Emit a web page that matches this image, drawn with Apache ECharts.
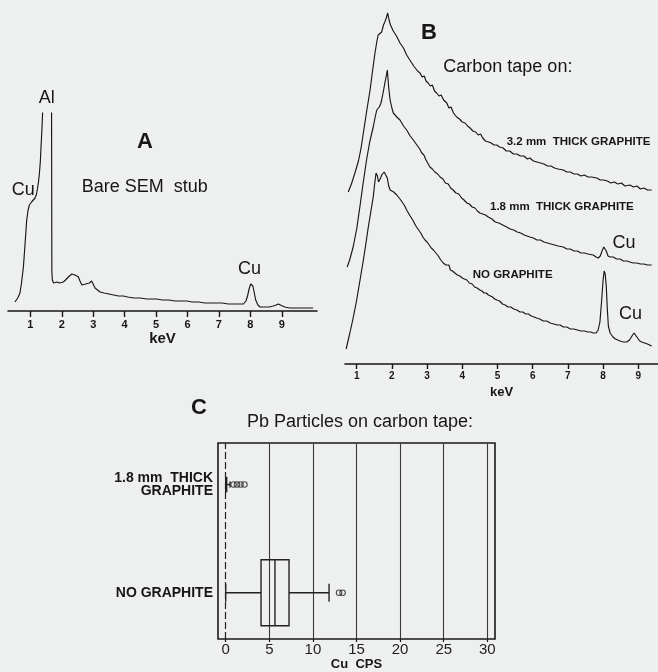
<!DOCTYPE html>
<html><head><meta charset="utf-8">
<script src="https://cdn.jsdelivr.net/npm/echarts@6/dist/echarts.min.js"></script>
<style>html,body{margin:0;padding:0;background:#eeefef}#c{width:658px;height:672px}</style>
</head><body><div id="c"></div>
<script>
// ---------- data ----------
const keVTicks = [1, 2, 3, 4, 5, 6, 7, 8, 9];
const cpsTicks = [0, 5, 10, 15, 20, 25, 30];
const boxCategories = ['NO GRAPHITE', '1.8 mm  THICK\nGRAPHITE'];
// [min, Q1, median, Q3, max] in Cu CPS
const boxStats = [[0, 4.05, 5.65, 7.26, 11.85], [0, 0, 0.02, 0.06, 0.5]];
const outliersNoGraphite = [13.0, 13.4];
const outliers18mm = [0.9, 1.3, 1.7, 2.15];

// Panel A: bare SEM stub spectrum [keV, counts]
const specA = [[0.51,9],[0.60,13],[0.67,18],[0.72,28],[0.78,44],[0.83,66],[0.885,91],[0.93,101],[0.97,106],[1.00,108],[1.04,109],[1.10,110],[1.15,113],[1.19,116],[1.22,121],[1.26,129],[1.29,138],[1.32,150],[1.34,164],[1.37,182],[1.39,198],[1.44,300],[1.49,400],[1.60,380],[1.67,300],[1.685,40],[1.70,31],[1.74,28],[1.79,28],[1.85,29],[1.92,28],[1.98,29],[2.05,29],[2.12,31],[2.17,33],[2.21,34],[2.27,36],[2.32,37],[2.37,38],[2.42,36],[2.47,36],[2.53,34],[2.58,30],[2.64,26],[2.70,26],[2.76,27],[2.81,27],[2.88,28],[2.95,30],[3.00,29],[3.06,23],[3.12,21],[3.22,19],[3.35,18],[3.50,17],[3.65,16],[3.80,15],[3.96,15],[4.10,14],[4.30,13],[4.50,13],[4.70,12],[4.85,12],[5.02,12],[5.20,11],[5.40,11],[5.60,10],[5.80,10],[5.98,10],[6.15,9],[6.35,9],[6.55,8],[6.75,8],[6.93,8],[7.10,8],[7.30,7],[7.50,7],[7.65,7],[7.78,7],[7.86,10],[7.91,15],[7.96,22],[8.01,27],[8.04,28],[8.08,25],[8.12,19],[8.17,11],[8.24,6],[8.31,4],[8.45,4],[8.60,4],[8.73,5],[8.82,6],[8.89,7],[8.95,6],[9.02,5],[9.10,4],[9.25,3],[9.45,3],[9.65,3],[9.85,3],[10.0,3]];

// Panel B: carbon tape on 3.2 mm graphite (stacked display counts)
const spec32 = [[0.76,172],[0.85,180],[0.95,191],[1.05,203],[1.12,215],[1.19,231],[1.28,252],[1.38,274],[1.45,293],[1.52,311],[1.57,322],[1.61,329],[1.65,327],[1.71,332],[1.76,339],[1.80,342],[1.84,346],[1.88,351],[1.92,344],[1.96,339],[1.99,337],[2.04,333],[2.08,334],[2.13,328],[2.18,327],[2.23,321],[2.28,322],[2.33,316],[2.37,314],[2.42,309],[2.47,310],[2.51,304],[2.56,302],[2.62,298],[2.67,299],[2.73,293],[2.80,291],[2.86,287],[2.92,288],[2.97,283],[3.03,281],[3.09,278],[3.15,279],[3.21,273],[3.27,271],[3.34,268],[3.40,269],[3.47,264],[3.56,261],[3.62,256],[3.68,257],[3.75,251],[3.84,247],[3.92,245],[4.00,242],[4.08,241],[4.15,238],[4.22,236],[4.30,233],[4.38,232],[4.45,229],[4.52,230],[4.58,226],[4.62,228],[4.66,223],[4.69,224],[4.75,222],[4.82,221],[4.90,219],[4.98,219],[5.06,217],[5.16,216],[5.25,213],[5.35,213],[5.45,210],[5.55,210],[5.65,208],[5.75,208],[5.85,205],[5.92,206],[6.02,203],[6.12,202],[6.22,201],[6.32,200],[6.42,198],[6.52,198],[6.62,196],[6.72,195],[6.87,194],[6.97,192],[7.07,192],[7.17,190],[7.27,190],[7.37,188],[7.47,189],[7.57,187],[7.67,187],[7.82,186],[7.92,184],[8.02,184],[8.12,183],[8.22,181],[8.32,182],[8.42,180],[8.52,181],[8.62,178],[8.76,179],[8.86,177],[8.96,178],[9.06,175],[9.16,176],[9.26,174],[9.38,174]];

// Panel B: carbon tape on 1.8 mm graphite
const spec18 = [[0.73,97],[0.80,104],[0.90,117],[1.00,135],[1.09,157],[1.18,180],[1.28,204],[1.37,222],[1.47,237],[1.52,246],[1.57,254],[1.60,252],[1.64,257],[1.68,260],[1.71,264],[1.76,273],[1.80,281],[1.84,288],[1.87,294],[1.91,276],[1.95,264],[2.00,256],[2.04,251],[2.09,252],[2.14,247],[2.19,248],[2.23,244],[2.28,243],[2.33,238],[2.38,239],[2.42,234],[2.47,233],[2.52,228],[2.56,229],[2.61,224],[2.67,221],[2.73,218],[2.79,215],[2.85,211],[2.91,209],[2.97,204],[3.02,202],[3.08,197],[3.15,195],[3.22,192],[3.30,190],[3.37,187],[3.45,185],[3.52,181],[3.60,180],[3.67,176],[3.74,174],[3.82,171],[3.90,170],[3.98,166],[4.05,164],[4.13,161],[4.20,160],[4.28,157],[4.36,156],[4.43,153],[4.50,151],[4.58,150],[4.66,149],[4.74,147],[4.84,145],[4.94,142],[5.04,141],[5.15,139],[5.26,137],[5.36,135],[5.46,134],[5.56,132],[5.66,131],[5.76,129],[5.92,127],[6.02,126],[6.12,124],[6.22,124],[6.32,122],[6.42,121],[6.52,120],[6.62,119],[6.72,118],[6.87,117],[6.97,115],[7.07,115],[7.17,113],[7.27,113],[7.37,111],[7.47,111],[7.57,110],[7.72,109],[7.80,107],[7.86,106],[7.92,108],[7.97,113],[8.02,117],[8.05,117],[8.09,113],[8.14,108],[8.20,107],[8.29,107],[8.38,105],[8.48,105],[8.58,103],[8.68,103],[8.76,102],[8.86,101],[8.96,101],[9.06,100],[9.16,100],[9.26,99],[9.38,99]];

// Panel B: carbon tape, no graphite
const spec0 = [[0.70,15],[0.80,30],[0.90,46],[1.00,64],[1.10,85],[1.19,104],[1.26,120],[1.33,137],[1.40,152],[1.47,167],[1.51,180],[1.55,191],[1.59,188],[1.62,182],[1.64,182],[1.68,186],[1.71,189],[1.74,191],[1.78,192],[1.83,194],[1.87,186],[1.91,178],[1.95,174],[2.00,175],[2.05,172],[2.09,171],[2.14,169],[2.19,168],[2.23,165],[2.28,164],[2.33,160],[2.38,157],[2.42,154],[2.47,151],[2.52,148],[2.56,146],[2.61,143],[2.65,140],[2.70,137],[2.76,134],[2.82,131],[2.88,127],[2.94,124],[3.00,122],[3.06,119],[3.12,116],[3.18,114],[3.25,111],[3.32,108],[3.39,104],[3.46,101],[3.53,99],[3.58,97],[3.62,99],[3.66,94],[3.72,93],[3.79,91],[3.86,89],[3.93,88],[4.00,86],[4.06,85],[4.13,84],[4.20,81],[4.28,80],[4.35,77],[4.42,76],[4.50,74],[4.56,73],[4.62,71],[4.68,71],[4.74,69],[4.80,68],[4.86,67],[4.92,65],[4.98,64],[5.06,63],[5.14,60],[5.22,59],[5.30,57],[5.38,57],[5.46,55],[5.55,54],[5.64,52],[5.72,52],[5.80,50],[5.88,50],[5.96,48],[6.04,47],[6.11,46],[6.20,45],[6.30,43],[6.40,43],[6.50,41],[6.60,40],[6.70,39],[6.78,39],[6.87,37],[6.97,37],[7.07,35],[7.17,35],[7.27,34],[7.37,33],[7.47,33],[7.57,32],[7.65,32],[7.72,31],[7.80,31],[7.86,34],[7.91,42],[7.96,64],[8.00,84],[8.03,93],[8.06,90],[8.09,78],[8.12,55],[8.15,38],[8.20,31],[8.28,27],[8.35,25],[8.39,24],[8.48,23],[8.58,22],[8.67,22],[8.75,24],[8.82,28],[8.88,31],[8.93,30],[8.98,26],[9.04,23],[9.10,22],[9.18,21],[9.26,20],[9.32,19],[9.38,18]];

// ---------- styles ----------
const FONT = '"Liberation Sans", Arial, Helvetica, sans-serif';
const INK = '#161616';
const boxHeights = [66, 14];
const capHeights = [18, 6];

const chart = echarts.init(document.getElementById('c'), null, {renderer: 'canvas'});

function spectrumSeries(data, xi) {
  return {
    type: 'line', xAxisIndex: xi, yAxisIndex: xi, data: data,
    showSymbol: false, symbol: 'none', clip: true, silent: true,
    lineStyle: {color: INK, width: 1.15}
  };
}

function renderBox(params, api) {
  const cat = api.value(0);
  const p = v => api.coord([v, cat]);
  const pMin = p(api.value(1)), pQ1 = p(api.value(2)), pMd = p(api.value(3)),
        pQ3 = p(api.value(4)), pMax = p(api.value(5));
  const y = pMin[1];
  const h = boxHeights[params.dataIndex], ch = capHeights[params.dataIndex];
  const st = {stroke: '#222', lineWidth: 1.4, fill: 'none'};
  return {type: 'group', children: [
    {type: 'line', shape: {x1: pMin[0], y1: y, x2: pQ1[0], y2: y}, style: st},
    {type: 'line', shape: {x1: pQ3[0], y1: y, x2: pMax[0], y2: y}, style: st},
    {type: 'line', shape: {x1: pMin[0], y1: y - ch / 2, x2: pMin[0], y2: y + ch / 2}, style: st},
    {type: 'line', shape: {x1: pMax[0], y1: y - ch / 2, x2: pMax[0], y2: y + ch / 2}, style: st},
    {type: 'rect', shape: {x: pQ1[0], y: y - h / 2, width: Math.max(pQ3[0] - pQ1[0], 1), height: h}, style: st},
    {type: 'line', shape: {x1: pMd[0], y1: y - h / 2, x2: pMd[0], y2: y + h / 2}, style: st}
  ]};
}

function txt(text, x, y, size, bold, align) {
  return {type: 'text', x: x, y: y, silent: true, style: {
    text: text, fill: INK, font: (bold ? 'bold ' : '') + size + 'px ' + FONT,
    textAlign: align || 'center', textVerticalAlign: 'middle'}};
}

const spectrumXAxis = (min, max, labelSize, margin, nameSize, nameGap, tickLen) => ({
  type: 'value', min: min, max: max,
  axisLine: {show: true, onZero: false, lineStyle: {color: INK, width: 1.6}},
  axisTick: {show: true, customValues: keVTicks, length: tickLen, lineStyle: {color: INK, width: 1.4}},
  axisLabel: {show: true, customValues: keVTicks, margin: margin, color: INK,
    fontFamily: FONT, fontSize: labelSize, fontWeight: 'bold'},
  splitLine: {show: false},
  name: 'keV', nameLocation: 'middle', nameGap: nameGap,
  nameTextStyle: {color: INK, fontFamily: FONT, fontSize: nameSize, fontWeight: 'bold'}
});

const outlierData = outliersNoGraphite.map(v => [v, 0]).concat(outliers18mm.map(v => [v, 1]));

const option = {
  backgroundColor: '#eeefef',
  animation: false,
  grid: [
    {left: 8, top: 113, width: 309, height: 198},
    {left: 345, top: 4, width: 313, height: 360},
    {left: 218, top: 443, width: 277, height: 198, show: true, borderColor: '#1a1a1a', borderWidth: 1.6, backgroundColor: 'transparent'}
  ],
  xAxis: [
    Object.assign(spectrumXAxis(0.29, 10.12, 11, 8, 15, 19, 6), {gridIndex: 0}),
    Object.assign(spectrumXAxis(0.668, 9.56, 10, 7, 13, 20, 5), {gridIndex: 1}),
    {
      gridIndex: 2, type: 'value', min: -0.883, max: 30.88,
      axisLine: {show: false, onZero: false},
      axisTick: {show: true, customValues: cpsTicks, length: 3, lineStyle: {color: INK, width: 1.2}},
      axisLabel: {show: true, customValues: cpsTicks, margin: 3, color: '#1e1e1e', fontFamily: FONT, fontSize: 15},
      splitLine: {show: false},
      name: 'Cu  CPS', nameLocation: 'middle', nameGap: 19,
      nameTextStyle: {color: INK, fontFamily: FONT, fontSize: 13, fontWeight: 'bold'}
    }
  ],
  yAxis: [
    {gridIndex: 0, type: 'value', min: 0, max: 198, show: false},
    {gridIndex: 1, type: 'value', min: 0, max: 360, show: false},
    {
      gridIndex: 2, type: 'value', min: -0.427, max: 1.384,
      axisLine: {show: false, onZero: false}, axisTick: {show: false}, splitLine: {show: false},
      axisLabel: {show: true, customValues: [0, 1], margin: 5, color: INK,
        fontFamily: FONT, fontSize: 14, fontWeight: 'bold', lineHeight: 13.5, align: 'right',
        formatter: v => boxCategories[Math.round(v)]}
    }
  ],
  series: [
    spectrumSeries(specA, 0),
    spectrumSeries(spec32, 1),
    spectrumSeries(spec18, 1),
    spectrumSeries(spec0, 1),
    {
      type: 'custom', xAxisIndex: 2, yAxisIndex: 2, silent: true,
      data: boxStats.map((s, i) => [i].concat(s)),
      encode: {x: [1, 2, 3, 4, 5], y: 0},
      renderItem: renderBox, z: 5
    },
    {
      type: 'scatter', xAxisIndex: 2, yAxisIndex: 2, silent: true, z: 5,
      data: outlierData, symbol: 'circle', symbolSize: 5.5,
      itemStyle: {color: 'rgba(0,0,0,0)', borderColor: '#222', borderWidth: 1.1},
      markLine: {
        silent: true, symbol: ['none', 'none'], symbolSize: 0, label: {show: false},
        emphasis: {disabled: true}, animation: false,
        data: cpsTicks.filter(v => v > 0).map(v => ({xAxis: v, lineStyle: {color: '#3a3a3a', width: 1.1, type: 'solid'}}))
          .concat([{xAxis: 0, lineStyle: {color: '#222', width: 1.2, type: [7, 3]}}])
      }
    }
  ],
  graphic: [
    txt('Al', 46.7, 98.3, 18),
    txt('Cu', 23.3, 190, 18),
    txt('A', 145, 141.7, 22, true),
    txt('Bare SEM  stub', 81.7, 186.7, 18, false, 'left'),
    txt('Cu', 249.5, 269.3, 18),
    txt('B', 429, 33.3, 22, true),
    txt('Carbon tape on:', 443.3, 66.7, 18, false, 'left'),
    txt('3.2 mm  THICK GRAPHITE', 506.7, 141.7, 11.5, true, 'left'),
    txt('1.8 mm  THICK GRAPHITE', 490, 207, 11.5, true, 'left'),
    txt('NO GRAPHITE', 472.7, 275, 11.5, true, 'left'),
    txt('Cu', 624, 242.7, 18),
    txt('Cu', 630.5, 314, 18),
    txt('C', 199, 408.3, 22, true),
    txt('Pb Particles on carbon tape:', 360, 421.7, 18)
  ]
};
chart.setOption(option);
</script>
</body></html>
